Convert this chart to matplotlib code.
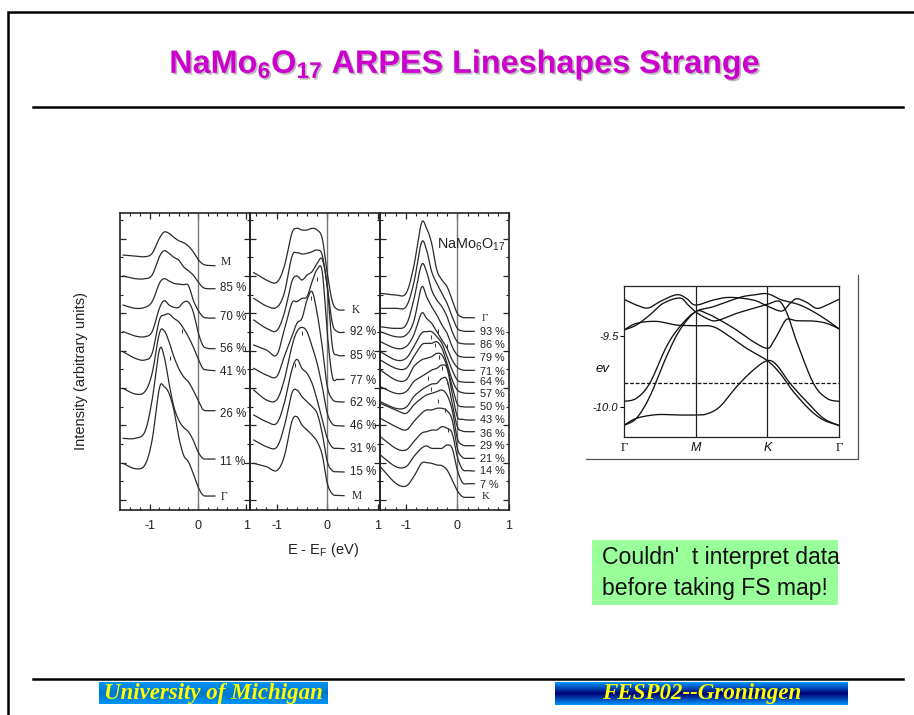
import matplotlib
matplotlib.use("Agg")
import matplotlib.pyplot as plt
import matplotlib.patheffects as pe
import numpy as np

plt.rcParams["font.family"] = ["Liberation Sans", "DejaVu Sans"]
plt.rcParams["mathtext.default"] = "regular"
plt.rcParams["axes.unicode_minus"] = False

W, H = 914, 715

# left panel, energy in eV and intensity
left_energy = [-1.55, -1.3, -1.1, -0.95, -0.8, -0.7, -0.6, -0.5, -0.4, -0.3, -0.2, -0.1, 0, 0.1, 0.2, 0.35]
left_m = [765, 762, 760, 770, 815, 834, 830, 818, 808, 802, 792, 775, 752, 738, 734, 733]
left_85 = [702, 694, 694, 705, 760, 778, 770, 758, 750, 730, 718, 705, 685, 668, 664, 664]
left_70 = [615, 605, 608, 625, 680, 694, 687, 680, 678, 676, 674, 630, 600, 580, 576, 576]
left_56 = [535, 522, 520, 535, 605, 628, 615, 608, 608, 623, 624, 595, 535, 494, 485, 484]
left_41 = [475, 455, 450, 470, 570, 585, 588, 575, 565, 545, 520, 490, 455, 425, 420, 418]
left_26 = [365, 348, 355, 410, 530, 538, 505, 460, 425, 400, 385, 360, 330, 302, 298, 298]
left_11 = [215, 215, 235, 330, 480, 460, 380, 310, 270, 248, 235, 210, 175, 155, 153, 153]
left_g = [140, 124, 135, 210, 365, 370, 350, 300, 220, 165, 145, 110, 70, 45, 42, 42]
left_curves = [left_m, left_85, left_70, left_56, left_41, left_26, left_11, left_g]
left_labels = ["M", "85 %", "70 %", "56 %", "41 %", "26 %", "11 %", "Γ"]
left_marks_e = [-0.33, -0.57]
left_marks_i = [538, 455]

# middle panel
mid_energy = [-1.45, -1.2, -1.0, -0.85, -0.7, -0.6, -0.5, -0.4, -0.3, -0.2, -0.1, 0, 0.1, 0.2, 0.33]
mid_k = [712, 690, 683, 730, 830, 845, 840, 840, 845, 840, 815, 710, 625, 602, 600]
mid_92 = [635, 612, 608, 650, 760, 772, 768, 770, 775, 780, 765, 670, 560, 535, 533]
mid_85 = [570, 545, 538, 590, 685, 702, 690, 705, 715, 740, 752, 670, 490, 465, 463]
mid_77 = [495, 480, 465, 540, 620, 625, 635, 640, 685, 722, 715, 530, 400, 392, 392]
mid_62 = [425, 405, 400, 460, 520, 560, 575, 630, 655, 590, 490, 370, 332, 325, 324]
mid_46 = [360, 330, 330, 390, 490, 535, 548, 535, 490, 440, 370, 290, 258, 253, 252]
mid_31 = [285, 265, 260, 320, 420, 452, 425, 410, 380, 330, 270, 215, 188, 185, 184]
mid_15 = [210, 190, 188, 250, 350, 360, 340, 325, 310, 290, 230, 145, 118, 115, 114]
mid_m = [140, 130, 118, 160, 265, 280, 255, 240, 225, 205, 165, 80, 48, 44, 43]
mid_curves = [mid_k, mid_92, mid_85, mid_77, mid_62, mid_46, mid_31, mid_15, mid_m]
mid_labels = ["K", "92 %", "85 %", "77 %", "62 %", "46 %", "31 %", "15 %", "M"]
mid_marks_e = [-0.2, -0.33, -0.5, -0.63]
mid_marks_i = [693, 635, 532, 435]

# right panel
right_energy = [-1.5, -1.2, -1.0, -0.85, -0.7, -0.6, -0.5, -0.4, -0.3, -0.2, -0.1, 0, 0.1, 0.2, 0.33]
right_g = [650, 645, 650, 730, 860, 845, 800, 720, 690, 670, 630, 590, 578, 577, 577]
right_93 = [605, 605, 610, 680, 802, 780, 715, 680, 650, 620, 580, 545, 537, 536, 536]
right_86 = [550, 545, 555, 630, 735, 715, 660, 630, 610, 580, 535, 505, 499, 498, 498]
right_79 = [535, 520, 525, 565, 668, 640, 610, 585, 555, 530, 490, 465, 459, 458, 458]
right_71 = [505, 485, 490, 525, 590, 575, 560, 535, 510, 485, 450, 428, 420, 419, 419]
right_64 = [475, 450, 455, 490, 530, 535, 535, 520, 500, 460, 420, 390, 384, 383, 383]
right_57 = [450, 425, 425, 460, 495, 500, 500, 505, 485, 440, 390, 360, 352, 350, 350]
right_50 = [420, 390, 390, 430, 450, 455, 460, 470, 465, 430, 370, 318, 310, 309, 309]
right_43 = [370, 350, 355, 385, 400, 410, 420, 425, 435, 425, 350, 280, 272, 270, 270]
right_36 = [325, 305, 308, 340, 360, 370, 378, 380, 395, 390, 320, 250, 237, 235, 235]
right_29 = [320, 300, 290, 315, 335, 345, 350, 355, 360, 345, 300, 215, 195, 193, 193]
right_21 = [275, 250, 240, 265, 290, 300, 300, 305, 305, 298, 270, 185, 158, 155, 155]
right_14 = [220, 185, 180, 205, 230, 235, 240, 240, 250, 245, 230, 160, 122, 118, 117]
right_7 = [165, 130, 130, 160, 185, 192, 185, 185, 185, 195, 185, 120, 82, 79, 79]
right_k = [130, 80, 72, 100, 140, 142, 140, 135, 133, 120, 90, 58, 40, 38, 38]
right_curves = [right_g, right_93, right_86, right_79, right_71, right_64, right_57, right_50,
                right_43, right_36, right_29, right_21, right_14, right_7, right_k]
right_labels = ["Γ", "93 %", "86 %", "79 %", "71 %", "64 %", "57 %", "50 %",
                "43 %", "36 %", "29 %", "21 %", "14 %", "7 %", "K"]
right_marks_e = [-.38, -.51, -.43, -.21, -.36, -.29, -.58, -.21, -.51, -.37, -.25, -.18]
right_marks_i = [538, 520, 495, 492, 460, 427, 395, 385, 363, 327, 300, 240]

band1_x = [133, 170, 205, 240, 290, 320, 347, 400, 450, 520, 562, 605, 630, 650, 680, 710, 740, 776]
band1_y = [88, 105, 114, 95, 74, 85, 105, 90, 82, 90, 108, 123, 100, 86, 97, 115, 105, 88]
band2_x = [133, 170, 210, 250, 300, 325, 347, 380, 410, 470, 520, 562, 590, 605, 625, 650, 700, 740, 776]
band2_y = [180, 165, 135, 100, 84, 105, 125, 145, 152, 130, 115, 103, 93, 100, 140, 215, 340, 385, 394]
band3_x = [133, 170, 210, 260, 300, 347, 400, 480, 520, 562, 600, 625, 660, 700, 740, 776]
band3_y = [394, 385, 340, 230, 170, 125, 110, 82, 75, 71, 88, 95, 105, 125, 150, 176]
band4_x = [133, 170, 230, 290, 347, 400, 450, 500, 562, 600, 640, 690, 730, 776]
band4_y = [180, 160, 154, 165, 167, 170, 200, 235, 272, 310, 365, 420, 450, 466]
band5_x = [133, 170, 210, 260, 300, 347, 380, 420, 470, 520, 562, 580, 600, 620, 650, 700, 740, 776]
band5_y = [466, 445, 380, 260, 180, 125, 130, 150, 180, 215, 235, 215, 180, 148, 152, 153, 160, 176]
band6_x = [133, 170, 230, 290, 347, 380, 420, 470, 520, 562, 590, 630, 680, 730, 776]
band6_y = [466, 445, 434, 435, 435, 432, 410, 350, 300, 272, 285, 340, 395, 445, 466]
bands = [(band1_x, band1_y), (band2_x, band2_y), (band3_x, band3_y),
         (band4_x, band4_y), (band5_x, band5_y), (band6_x, band6_y)]
fermi_level = -9.833
energy_ticks = [-9.5, -10.0]
energy_tick_labels = ["-9.5", "-10.0"]
k_ticks = [0, 1, 2, 3]
k_tick_labels = ["Γ", "M", "K", "Γ"]


def smooth(x, y, n=12):
    # catmull-rom through the read points, so the lines don't look faceted
    x = np.asarray(x, float)
    y = np.asarray(y, float)
    px = np.r_[x[0], x, x[-1]]
    py = np.r_[y[0], y, y[-1]]
    t = np.linspace(0, 1, n, endpoint=False)[:, None]
    def seg(p):
        a, b, c, d = p[:-3], p[1:-2], p[2:-1], p[3:]
        return 0.5 * (2*b + (c - a)*t + (2*a - 5*b + 4*c - d)*t**2 + (3*b - a - 3*c + d)*t**3)
    return np.r_[seg(px).T.ravel(), x[-1]], np.r_[seg(py).T.ravel(), y[-1]]


def px_axes(fig, left, top, right, bottom):
    return fig.add_axes([left/W, 1 - bottom/H, (right - left)/W, (bottom - top)/H])


fig = plt.figure(figsize=(W/100, H/100), dpi=100)

# slide furniture, in pixels
slide = fig.add_axes([0, 0, 1, 1])
slide.set_xlim(0, W)
slide.set_ylim(H, 0)
slide.axis("off")
slide.plot([8, 8, W], [H, 12, 12], color="black", lw=1.8, solid_joinstyle="miter")
slide.plot([33, 903], [107, 107], color="black", lw=1.8)
slide.plot([33, 903], [679, 679], color="black", lw=1.8)
slide.text(465, 65, "NaMo$_6$O$_{17}$ ARPES Lineshapes Strange", ha="center", va="center",
           fontsize=23.3, fontweight="bold", color="#cc00cc",
           path_effects=[pe.withSimplePatchShadow(offset=(1.2, -1.2), shadow_rgbFace="#bbbbbb", alpha=1)])
slide.text(287, 550, "E - E$_F$ (eV)", ha="left", va="center", fontsize=10.5, color="#222222")
slide.text(80.5, 371, "Intensity (arbitrary units)", rotation=90, ha="center", va="center",
           fontsize=10.5, color="#222222")

slide.add_patch(plt.Rectangle((592, 540), 246, 65, color="#99ff99", lw=0))
slide.text(602, 573, "Couldn'  t interpret data\nbefore taking FS map!", ha="left", va="center",
           fontsize=16.6, color="#111111", linespacing=1.45)

blue = np.array([0.0, 0.58, 0.98])
navy = np.array([0.0, 0.0, 0.45])
g = np.abs(np.linspace(-1, 1, 32))[:, None, None]
slide.imshow(blue*(0.8 + 0.2*g), extent=(99, 328, 704, 682), aspect="auto", zorder=1)
slide.imshow(navy + (blue - navy)*g, extent=(555, 848, 705, 682), aspect="auto", zorder=1)
slide.set_xlim(0, W)
slide.set_ylim(H, 0)
slide.text(213, 693, "University of Michigan", ha="center", va="center", family="Liberation Serif",
           style="italic", fontweight="bold", fontsize=16.5, color="#ffff00", zorder=2)
slide.text(702, 693, "FESP02--Groningen", ha="center", va="center", family="Liberation Serif",
           style="italic", fontweight="bold", fontsize=16.6, color="#ffff00", zorder=2)

# box round the band structure cut-out
slide.plot([586, 858, 858], [459, 459, 275], color="#555555", lw=0.9)

# spectra panels
panels = [
    (120, 250, (-1.615, 1.077), left_energy, left_curves, left_labels, left_marks_e, left_marks_i,
     [12, 3, 2, -1, -3, -10, -8, -4], 8.3),
    (250, 380, (-1.525, 1.04), mid_energy, mid_curves, mid_labels, mid_marks_e, mid_marks_i,
     [0, 0, 0, -5, -2, 0, 0, 0, 0], 8.3),
    (380, 509, (-1.507, 1.007), right_energy, right_curves, right_labels, right_marks_e, right_marks_i,
     [-2, -1, -3, -1, -4, 2, -2, -1, 0, -8, -2, -1, 1, -4, 2], 7.8),
]
for left, right, xlim, energy, curves, labels, marks_e, marks_i, label_dy, label_size in panels:
    ax = px_axes(fig, left, 212.7, right, 510)
    ax.patch.set_alpha(0)
    ax.set_xlim(*xlim)
    ax.set_ylim(0, 892)
    ax.axvline(0, color="#777777", lw=1)
    for curve, label, dy in zip(curves, labels, label_dy):
        sx, sy = smooth(energy, curve)
        ax.plot(sx, sy, color="#2a2a2a", lw=0.9)
        greek_or_point = label in ("M", "K", "Γ")
        ax.text(0.48 if greek_or_point else 0.45, curve[-1] + dy, label, ha="left", va="center",
                fontsize=label_size, color="#222222", clip_on=False,
                family="Liberation Serif" if greek_or_point else "Liberation Sans")
    ax.plot(marks_e, marks_i, ls="none", marker="|", ms=3.5, mew=0.7, color="#333333")
    ax.set_xticks([-1, 0, 1])
    ax.set_xticklabels(["-1", "0", "1"], fontsize=9, color="#222222")
    ax.set_xticks(np.arange(-1.4, 1.01, 0.2), minor=True)
    ax.set_yticks(np.arange(30, 892, 112))
    ax.set_yticks(np.arange(86, 892, 112), minor=True)
    ax.set_yticklabels([])
    ax.tick_params(which="major", direction="in", top=True, right=True, length=4, width=0.9,
                   color="#222222", pad=7)
    ax.tick_params(which="minor", direction="in", top=True, right=True, length=2.5, width=0.8,
                   color="#222222")
    for s in ax.spines.values():
        s.set_linewidth(1.2)
        s.set_color("#222222")
    if left == 380:
        ax.text(-0.4, 795, "NaMo$_6$O$_{17}$", ha="left", va="center", fontsize=10.4, color="#222222")

# band structure
bx = px_axes(fig, 624, 285.7, 839, 436.7)
bx.patch.set_alpha(0)
bx.set_xlim(0, 3)
bx.set_ylim(-10.205, -9.151)
for xs, ys in bands:
    sx, sy = smooth(xs, ys)
    bx.plot((sx - 133) / 214.5, -9.5 - (sy - 197) / 430, color="#111111", lw=0.95)
bx.axhline(fermi_level, color="#111111", lw=0.9, ls=(0, (3, 1.5)))
for k in k_ticks[1:3]:
    bx.axvline(k, color="#222222", lw=0.9)
bx.set_yticks(energy_ticks)
bx.set_yticklabels(energy_tick_labels, fontsize=8, style="italic", color="#111111")
bx.set_xticks(k_ticks)
bx.set_xticklabels(k_tick_labels, fontsize=9, color="#111111")
bx.get_xticklabels()[0].set_family("Liberation Serif")
bx.get_xticklabels()[3].set_family("Liberation Serif")
bx.get_xticklabels()[1].set_style("italic")
bx.get_xticklabels()[2].set_style("italic")
bx.tick_params(axis="x", length=0, pad=4)
bx.tick_params(axis="y", length=3, width=0.8, pad=1)
for s in bx.spines.values():
    s.set_linewidth(0.9)
    s.set_color("#222222")
bx.text(-0.3, -9.733, "ev", fontsize=9.5, style="italic", ha="center", va="center", color="#111111")

fig.savefig("out.png", dpi=100)
